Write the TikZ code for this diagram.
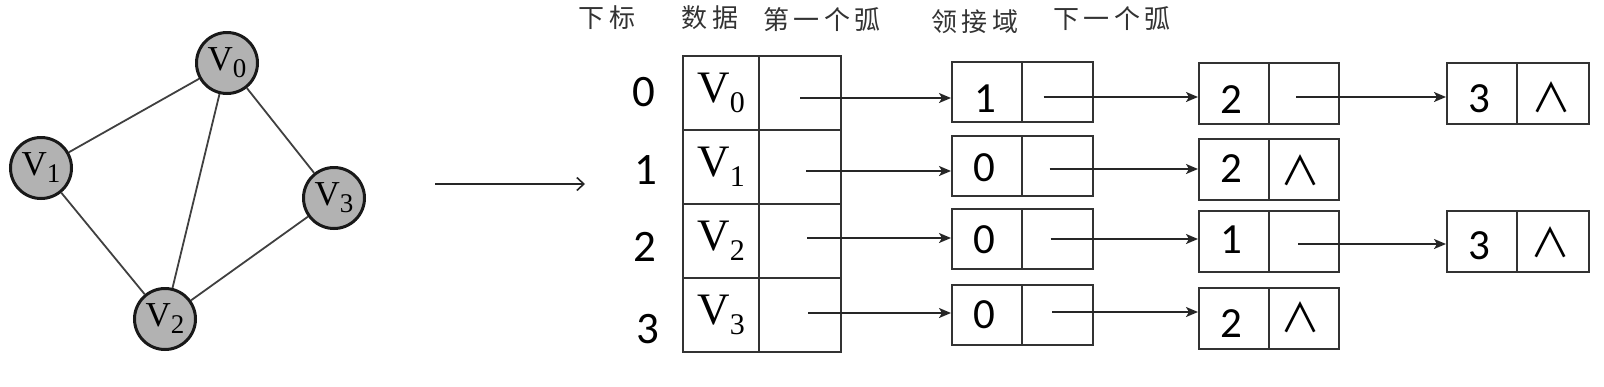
\documentclass[tikz,border=0pt]{standalone}
\usepackage{fontspec}
\setmainfont{Liberation Serif}
\newfontfamily\cjk[LetterSpace=16]{Noto Sans CJK SC}
\newfontfamily\cjknil{Noto Sans CJK SC}
\newfontfamily\calfont{Carlito}
\usetikzlibrary{arrows.meta,calc}
\newcommand\Vg[1]{V\raisebox{-7pt}{\fontsize{27}{27}\selectfont #1}}
\newcommand\Vt[1]{V\raisebox{-10pt}{\fontsize{30}{30}\selectfont #1}}
\tikzset{
 vert/.style={circle, draw=black!90, line width=3pt, fill=black!30, minimum size=61pt, inner sep=0pt, font=\fontsize{35}{35}\selectfont},
 edge/.style={draw=black!75, line width=1.8pt},
 cell/.style={draw=black!80, line width=2pt, inner sep=0pt},
 tcell/.style={cell, minimum height=74pt, font=\fontsize{45}{45}\selectfont},
 lcell/.style={cell, minimum height=60pt, minimum width=70pt},
 num/.style={font=\calfont\fontsize{43}{43}\selectfont, inner sep=0pt},
 idx/.style={font=\calfont\fontsize{45}{45}\selectfont, inner sep=0pt},
 nil/.style={font=\cjknil\fontsize{40}{40}\selectfont, inner sep=0pt},
 head/.style={font=\cjk\fontsize{26}{26}\selectfont, text=black!80, inner sep=0pt},
 link/.style={draw=black!85, line width=1.8pt, -{Stealth[length=12pt,width=10pt,inset=3pt]}},
 bigarrow/.style={draw=black!85, line width=1.6pt, -{Straight Barb[length=7pt,width=13pt]}},
}
\begin{document}
\begin{tikzpicture}[x=1pt,y=-1pt]
\useasboundingbox (0,0) rectangle (1604,386);
% graph
\node[vert] (g0) at (227,63) {\Vg{0}};
\node[vert] (g1) at (41,168) {\Vg{1}};
\node[vert] (g3) at (334,198) {\Vg{3}};
\node[vert] (g2) at (165,319) {\Vg{2}};
\draw[edge] (g0) -- (g1);
\draw[edge] (g0) -- (g2);
\draw[edge] (g0) -- (g3);
\draw[edge] (g1) -- (g2);
\draw[edge] (g2) -- (g3);
% main arrow
\coordinate (ma) at (435,184);
\coordinate (mb) at (585,184);
\draw[bigarrow] (ma) -- (mb);
% headers
\node[head] (h1) at (607,18) {下标};
\node[head] (h2) at (710,18) {数据};
\node[head] (h3) at (822,19.5) {第一个弧};
\node[head] (h4) at (975,21.5) {领接域};
\node[head] (h5) at (1112,19) {下一个弧};
% index
\node[idx] (i0) at (644,92) {0};
\node[idx] (i1) at (646,170) {1};
\node[idx] (i2) at (645,247) {2};
\node[idx] (i3) at (648,329) {3};
% vertex table
\node[tcell, minimum width=76pt] (td0) at (721,93) {\Vt{0}};
\node[tcell, minimum width=82pt] (tf0) at (800,93) {};
\node[tcell, minimum width=76pt] (td1) at (721,167) {\Vt{1}};
\node[tcell, minimum width=82pt] (tf1) at (800,167) {};
\node[tcell, minimum width=76pt] (td2) at (721,241) {\Vt{2}};
\node[tcell, minimum width=82pt] (tf2) at (800,241) {};
\node[tcell, minimum width=76pt] (td3) at (721,315) {\Vt{3}};
\node[tcell, minimum width=82pt] (tf3) at (800,315) {};
% column A
\node[lcell] (aL0) at (987,91.5) {};
\node[lcell, minimum width=71pt] (aR0) at (1057.5,91.5) {};
\node[lcell] (aL1) at (987,166) {};
\node[lcell, minimum width=71pt] (aR1) at (1057.5,166) {};
\node[lcell] (aL2) at (987,238.5) {};
\node[lcell, minimum width=71pt] (aR2) at (1057.5,238.5) {};
\node[lcell] (aL3) at (987,314.5) {};
\node[lcell, minimum width=71pt] (aR3) at (1057.5,314.5) {};
% column B
\node[lcell, minimum height=61pt] (bL0) at (1234,93.5) {};
\node[lcell, minimum height=61pt] (bR0) at (1304,93.5) {};
\node[lcell, minimum height=61pt] (bL1) at (1234,169) {};
\node[lcell, minimum height=61pt] (bR1) at (1304,169) {};
\node[lcell, minimum height=61pt] (bL2) at (1234,241) {};
\node[lcell, minimum height=61pt] (bR2) at (1304,241) {};
\node[lcell, minimum height=61pt] (bL3) at (1234,318) {};
\node[lcell, minimum height=61pt] (bR3) at (1304,318) {};
% column C
\node[lcell, minimum height=61pt] (cL0) at (1482,93.5) {};
\node[lcell, minimum height=61pt, minimum width=72pt] (cR0) at (1553,93.5) {};
\node[lcell, minimum height=61pt] (cL2) at (1482,241) {};
\node[lcell, minimum height=61pt, minimum width=72pt] (cR2) at (1553,241) {};
% cell texts
\node[num] (ta0) at (985,98.5) {1};
\node[num] (ta1) at (984,168) {0};
\node[num] (ta2) at (984,240) {0};
\node[num] (ta3) at (984,315) {0};
\node[num] (tb0) at (1231,99.5) {2};
\node[num] (tb1) at (1231,169) {2};
\node[num] (tb2) at (1231,240) {1};
\node[num] (tb3) at (1231,324) {2};
\node[num] (tc0) at (1479,98.5) {3};
\node[num] (tc2) at (1479,246) {3};
\node[nil] (nb1) at (1300,170) {∧};
\node[nil] (nb3) at (1300,317) {∧};
\node[nil] (nc0) at (1551,97.5) {∧};
\node[nil] (nc2) at (1550,242) {∧};
% links table -> A
\coordinate (s0) at ($(tf0.center)+(0,5)$);
\coordinate (s1) at ($(tf1.center)+(6,4)$);
\coordinate (s2) at ($(tf2.center)+(7,-3)$);
\coordinate (s3) at ($(tf3.center)+(8,-2)$);
\draw[link] (s0) -- (s0 -| aL0.west);
\draw[link] (s1) -- (s1 -| aL1.west);
\draw[link] (s2) -- (s2 -| aL2.west);
\draw[link] (s3) -- (s3 -| aL3.west);
% links A -> B
\coordinate (p0) at ($(aR0.center)+(-14,5.5)$);
\coordinate (p1) at ($(aR1.center)+(-8,3)$);
\coordinate (p2) at ($(aR2.center)+(-7,0.5)$);
\coordinate (p3) at ($(aR3.center)+(-5.5,-2.5)$);
\draw[link] (p0) -- (p0 -| bL0.west);
\draw[link] (p1) -- (p1 -| bL1.west);
\draw[link] (p2) -- (p2 -| bL2.west);
\draw[link] (p3) -- (p3 -| bL3.west);
% links B -> C
\coordinate (q0) at ($(bR0.center)+(-8,3.5)$);
\coordinate (q2) at ($(bR2.center)+(-6,3)$);
\draw[link] (q0) -- (q0 -| cL0.west);
\draw[link] (q2) -- (q2 -| cL2.west);
\end{tikzpicture}
\end{document}
